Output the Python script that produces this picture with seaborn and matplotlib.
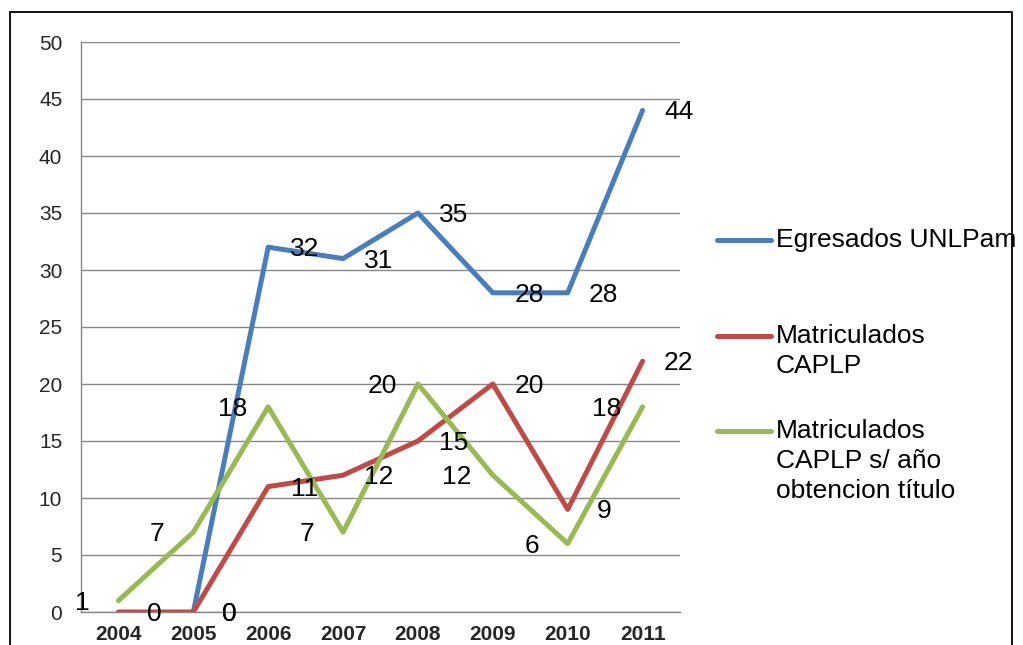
import pandas as pd
import matplotlib.pyplot as plt
import numpy as np
import seaborn as sb
from matplotlib.lines import Line2D
from matplotlib.patches import Rectangle

# valores
anios = ["2004", "2005", "2006", "2007", "2008", "2009", "2010", "2011"]
egresados = [np.nan, 0, 32, 31, 35, 28, 28, 44]
matriculados = [0, 0, 11, 12, 15, 20, 9, 22]
matriculados_titulo = [1, 7, 18, 7, 20, 12, 6, 18]

series = ["Egresados UNLPam", "Matriculados CAPLP", "Matriculados CAPLP s/ año obtencion título"]
colores = ["#4A7EBB", "#BE4B48", "#98B954"]
# lado de la etiqueta de datos (pixeles)
lado = [36, 36, -36]

df = pd.DataFrame({
    "pos": list(range(len(anios))) * 3,
    "valor": egresados + matriculados + matriculados_titulo,
    "serie": [s for s in series for _ in anios],
})

sb.set_style("white")
plt.rcParams["font.family"] = ["Liberation Sans", "DejaVu Sans"]

fig = plt.figure(figsize=(10.23, 6.45), dpi=100)
ax = fig.add_axes([81 / 1023, 33 / 645, (680 - 81) / 1023, (612 - 42) / 645])

sb.lineplot(data=df, x="pos", y="valor", hue="serie", hue_order=series,
            palette=colores, linewidth=3.6, legend=False, ax=ax,
            solid_capstyle="round", solid_joinstyle="round")

# etiquetas de datos
for s, dx in zip(series, lado):
    sub = df[df["serie"] == s].dropna()
    for x, y in zip(sub["pos"], sub["valor"]):
        ax.annotate("%d" % y, (x, y), xytext=(dx, -2), textcoords="offset pixels",
                    ha="center", va="center", fontsize=19, color="black",
                    annotation_clip=False)

ax.set_xlim(-0.5, len(anios) - 0.5)
ax.set_ylim(0, 50)
ax.set_yticks(range(0, 51, 5))
ax.set_xticks(range(len(anios)))
ax.set_xticklabels(anios, fontweight="bold", fontsize=15)
ax.set_xticks(np.arange(-0.5, len(anios)), minor=True)
ax.tick_params(axis="x", which="major", length=0, pad=9)
ax.tick_params(axis="x", which="minor", length=5, width=1, color="#878787", direction="out")
ax.tick_params(axis="y", length=5, width=1, color="#878787", pad=8.5, labelsize=15)
ax.set_xlabel("")
ax.set_ylabel("")

ax.grid(axis="y", color="#878787", linewidth=1)
ax.set_axisbelow(True)
for sp in ["top", "right"]:
    ax.spines[sp].set_visible(False)
for sp in ["left", "bottom"]:
    ax.spines[sp].set_color("#878787")
    ax.spines[sp].set_linewidth(1)

# leyenda a mano, como en Excel
leyenda_y = [240, 336, 431]
textos = [["Egresados UNLPam"], ["Matriculados", "CAPLP"],
          ["Matriculados", "CAPLP s/ año", "obtencion título"]]
for c, y0, lineas in zip(colores, leyenda_y, textos):
    fy = 1 - y0 / 645
    fig.add_artist(Line2D([717 / 1023, 771 / 1023], [fy, fy], color=c, linewidth=3.6,
                          solid_capstyle="round"))
    for k, t in enumerate(lineas):
        fig.text(776 / 1023, 1 - (y0 + k * 30) / 645, t, fontsize=19,
                 ha="left", va="center", color="black")

# borde del grafico
fig.add_artist(Rectangle((10 / 1023, -0.1), 1002 / 1023, 1.1 - 12 / 645,
                         transform=fig.transFigure, fill=False, edgecolor="black",
                         linewidth=1.3))

fig.savefig("out.png", dpi=100)
